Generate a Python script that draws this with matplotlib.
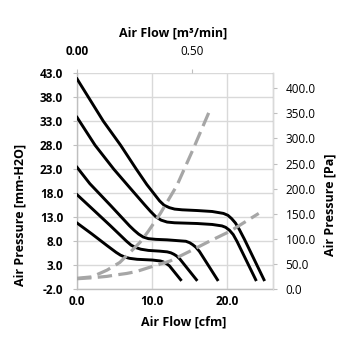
import numpy as np
import matplotlib
matplotlib.use("Agg")
import matplotlib.pyplot as plt

plt.rcParams['font.family'] = ['Open Sans', 'DejaVu Sans']

# fan curves, air flow [cfm] vs static pressure [mm-H2O]
fan1_x = [0, 3.5, 5.8, 7.9, 9.3, 10.3, 11.0, 11.6, 12.3, 13.0, 14, 16, 18, 19.5, 20.1, 20.6, 21.1, 21.6, 22.3, 24.9]
fan1_y = [41.8, 33.0, 28.0, 23.0, 19.8, 17.8, 16.4, 15.5, 15.0, 14.7, 14.55, 14.4, 14.2, 13.8, 13.4, 12.7, 11.8, 10.5, 8.4, 0.0]

fan2_x = [0, 2.4, 4.9, 7.0, 9.0, 9.8, 10.5, 11.2, 12.0, 13, 16, 18, 19.3, 19.8, 20.3, 20.8, 21.3, 23.8]
fan2_y = [33.8, 28.0, 23.0, 19.2, 15.6, 14.2, 13.1, 12.4, 12.0, 11.85, 11.7, 11.5, 11.2, 10.9, 10.3, 9.4, 8.0, 0.0]

fan3_x = [0, 1.7, 4.5, 7.0, 7.6, 8.2, 8.8, 9.5, 10.5, 12, 14.5, 15.0, 15.4, 15.8, 16.3, 18.7]
fan3_y = [23.4, 20.0, 15.4, 11.2, 10.3, 9.5, 8.9, 8.55, 8.4, 8.3, 8.0, 7.7, 7.3, 6.8, 5.9, 0.0]

fan4_x = [0, 2.0, 4.4, 6.0, 6.6, 7.2, 7.8, 8.5, 9.5, 11.0, 12.0, 12.5, 12.9, 13.3, 13.7, 15.9]
fan4_y = [17.7, 14.8, 11.3, 8.9, 8.0, 7.2, 6.7, 6.35, 6.1, 5.95, 5.8, 5.6, 5.3, 4.9, 4.3, 0.0]

fan5_x = [0, 2.0, 4.0, 5.2, 5.8, 6.4, 7.0, 8.0, 10.0, 11.1, 11.5, 11.9, 12.3, 13.8]
fan5_y = [11.8, 9.5, 7.1, 5.7, 5.1, 4.7, 4.45, 4.25, 4.1, 3.9, 3.7, 3.35, 2.9, 0.0]

# system impedance curves
sys1_x = [0, 2, 4, 5.7, 7, 8.4, 9.5, 11.1, 13.3, 15.5, 17.8]
sys1_y = [0.3, 0.6, 2.0, 3.6, 5.6, 7.8, 10.1, 13.8, 19.6, 27.3, 35.7]

sys2_x = [0, 2, 4, 5.2, 6.6, 7.9, 9.5, 12.4, 15, 17.5, 20.4, 24.2]
sys2_y = [0.2, 0.4, 0.7, 1.0, 1.3, 1.7, 2.5, 3.9, 5.9, 7.9, 10.1, 13.8]

left_ticks = [-2, 3, 8, 13, 18, 23, 28, 33, 38, 43]
right_ticks = [0, 50, 100, 150, 200, 250, 300, 350, 400]
bottom_ticks = [0, 10, 20]
top_ticks = [0.0, 0.5]

fig = plt.figure(figsize=(3.55, 3.55), dpi=100)
ax = fig.add_axes([0.217, 0.185, 0.552, 0.609])

for fx, fy in [(fan1_x, fan1_y), (fan2_x, fan2_y), (fan3_x, fan3_y),
               (fan4_x, fan4_y), (fan5_x, fan5_y)]:
    ax.plot(fx, fy, color='black', lw=2.1, solid_joinstyle='round', zorder=3)

for sx, sy in [(sys1_x, sys1_y), (sys2_x, sys2_y)]:
    ax.plot(sx, sy, color='#A6A6A6', lw=2.3, dashes=(4.5, 2), zorder=4)

ax.set_xlim(0, 26.1)
ax.set_ylim(-2, 43)
ax.set_yticks(left_ticks)
ax.set_yticklabels(['%.1f' % v for v in left_ticks], fontsize=8.5, fontweight='bold')
ax.set_xticks(bottom_ticks)
ax.set_xticklabels(['%.1f' % v for v in bottom_ticks], fontsize=8.5, fontweight='bold')
ax.tick_params(axis='y', length=3, width=0.8, color='#BFBFBF', pad=7)
ax.tick_params(axis='x', length=0, pad=4)
ax.grid(True, color='#D9D9D9', lw=1.0)
ax.set_axisbelow(True)
for s in ax.spines.values():
    s.set_color('#BFBFBF')
    s.set_linewidth(1.0)
ax.spines['top'].set_visible(False)

# right axis in Pa
ax_r = ax.twinx()
ax_r.set_ylim(0, 430)
ax_r.set_yticks(right_ticks)
ax_r.set_yticklabels(['%.1f' % v for v in right_ticks], fontsize=8.5)
ax_r.tick_params(axis='y', length=3, width=0.8, color='#BFBFBF', pad=6)
for s in ax_r.spines.values():
    s.set_visible(False)
ax_r.spines['right'].set_visible(True)
ax_r.spines['right'].set_color('#D9D9D9')

# top axis in m3/min
ax_t = ax.twiny()
ax_t.set_xlim(0, 0.852)
ax_t.set_xticks(top_ticks)
ax_t.set_xticklabels(['%.2f' % v for v in top_ticks], fontsize=8.5)
ax_t.get_xticklabels()[0].set_fontweight('bold')
ax_t.tick_params(axis='x', length=3, width=0.8, color='#BFBFBF', pad=8)
for s in ax_t.spines.values():
    s.set_visible(False)

fig.text(0.489, 0.907, 'Air Flow [m³/min]', fontsize=9, fontweight='bold',
         ha='center', va='center')
fig.text(0.518, 0.093, 'Air Flow [cfm]', fontsize=9, fontweight='bold',
         ha='center', va='center')
fig.text(0.056, 0.394, 'Air Pressure [mm-H2O]', fontsize=9, fontweight='bold',
         ha='center', va='center', rotation=90)
fig.text(0.930, 0.423, 'Air Pressure [Pa]', fontsize=9, fontweight='bold',
         ha='center', va='center', rotation=90)

fig.savefig('out.png', dpi=100)
